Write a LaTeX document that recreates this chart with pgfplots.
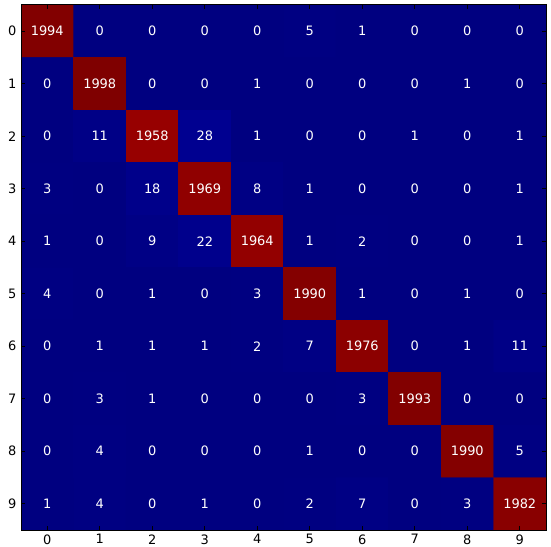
\documentclass[border=0pt]{standalone}
\usepackage{fontspec}
\setmainfont{DejaVu Sans}
\usepackage{pgfplots}
\usepackage{pgfplotstable}
\pgfplotsset{compat=1.18}
\definecolor{jetzero}{rgb}{0,0,0.5}
\pgfplotstableread{
x y C
0 0 1994
1 0 0
2 0 0
3 0 0
4 0 0
5 0 5
6 0 1
7 0 0
8 0 0
9 0 0
0 1 0
1 1 1998
2 1 0
3 1 0
4 1 1
5 1 0
6 1 0
7 1 0
8 1 1
9 1 0
0 2 0
1 2 11
2 2 1958
3 2 28
4 2 1
5 2 0
6 2 0
7 2 1
8 2 0
9 2 1
0 3 3
1 3 0
2 3 18
3 3 1969
4 3 8
5 3 1
6 3 0
7 3 0
8 3 0
9 3 1
0 4 1
1 4 0
2 4 9
3 4 22
4 4 1964
5 4 1
6 4 2
7 4 0
8 4 0
9 4 1
0 5 4
1 5 0
2 5 1
3 5 0
4 5 3
5 5 1990
6 5 1
7 5 0
8 5 1
9 5 0
0 6 0
1 6 1
2 6 1
3 6 1
4 6 2
5 6 7
6 6 1976
7 6 0
8 6 1
9 6 11
0 7 0
1 7 3
2 7 1
3 7 0
4 7 0
5 7 0
6 7 3
7 7 1993
8 7 0
9 7 0
0 8 0
1 8 4
2 8 0
3 8 0
4 8 0
5 8 1
6 8 0
7 8 0
8 8 1990
9 8 5
0 9 1
1 9 4
2 9 0
3 9 1
4 9 0
5 9 2
6 9 7
7 9 0
8 9 3
9 9 1982
}\cm
\begin{document}
\begin{tikzpicture}
\begin{axis}[
  scale only axis,
  width=525bp, height=525bp,
  xmin=-0.5, xmax=9.5, ymin=-0.5, ymax=9.5,
  y dir=reverse,
  xtick={0,...,9}, ytick={0,...,9},
  tick align=inside,
  major tick length=4bp,
  minor tick num=0,
  axis on top,
  axis background/.style={fill=jetzero},
  axis line style={line width=1pt},
  tick style={black, line width=0.8pt},
  /pgf/number format/assume math mode=true,
  tick label style={font=\fontsize{13}{15}\selectfont},
  xticklabel style={yshift=-1pt},
  yticklabel style={xshift=-1pt},
  colormap={mpljet}{rgb(0pt)=(0,0,0.5) rgb(11pt)=(0,0,1) rgb(12.5pt)=(0,0,1) rgb(34pt)=(0,0.86,1) rgb(35pt)=(0,0.9,0.968) rgb(37.5pt)=(0.08,1,0.887) rgb(64pt)=(0.935,1,0.032) rgb(65pt)=(0.968,0.963,0) rgb(66pt)=(1,0.926,0) rgb(89pt)=(1,0.074,0) rgb(91pt)=(0.909,0,0) rgb(100pt)=(0.5,0,0)},
  point meta min=0, point meta max=1998,
]
\addplot[matrix plot*, mesh/cols=10, point meta=explicit] table[x=x, y=y, meta=C] {\cm};
\addplot[draw=none, mark=none, point meta=explicit symbolic,
  nodes near coords={\pgfplotspointmeta},
  every node near coord/.append style={anchor=center, text=white, font=\fontsize{13}{15}\selectfont}]
  table[x=x, y=y, meta=C] {\cm};
\end{axis}
\pgfresetboundingbox
\path[use as bounding box] ([shift={(-21bp,-17bp)}]current axis.south west) rectangle ([shift={(5bp,5bp)}]current axis.north east);
\end{tikzpicture}
\end{document}
